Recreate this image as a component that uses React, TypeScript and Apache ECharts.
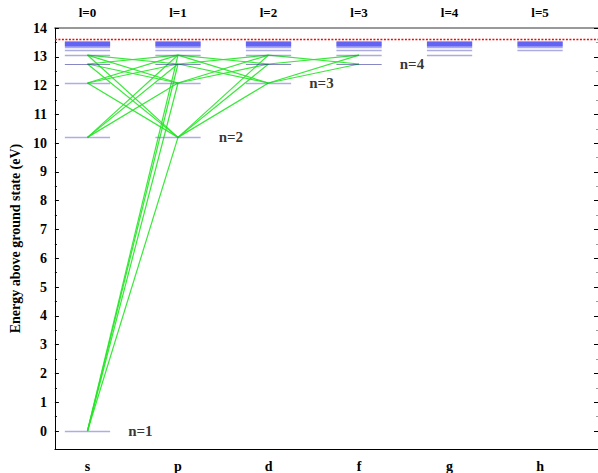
import React, { useEffect, useRef } from "react";
import * as echarts from "echarts";

// Principal quantum numbers and their energies above ground state (eV)
const LEVEL_N = [1, 2, 3, 4, 5, 6, 7, 8, 9, 10, 11, 12];
const LEVEL_E = [0, 10.2, 12.09, 12.75, 13.06, 13.22, 13.32, 13.39, 13.43, 13.46, 13.49, 13.51];
const IONIZATION = 13.6;
// Orbital columns
const L_VALUES = [0, 1, 2, 3, 4, 5];
const TOP_LABELS = ["l=0", "l=1", "l=2", "l=3", "l=4", "l=5"];
const BOTTOM_LABELS = ["s", "p", "d", "f", "g", "h"];
const Y_TICKS = [0, 1, 2, 3, 4, 5, 6, 7, 8, 9, 10, 11, 12, 13, 14];
const Y_MINOR = [0.5, 1.5, 2.5, 3.5, 4.5, 5.5, 6.5, 7.5, 8.5, 9.5, 10.5, 11.5, 12.5, 13.5];
// n labels: [n, column]
const N_LABELS = [
  [1, 0],
  [2, 1],
  [3, 2],
  [4, 3],
];
// transitions drawn among n <= 5 and l <= 3 (selection rule dl = ±1)
const TRANS_MAX_N = 5;
const TRANS_MAX_L = 3;

const X_MIN = -0.36;
const X_MAX = 5.64;
const Y_MIN = -0.625;
const Y_MAX = 14;
const HALF = 0.25;
const FONT = "Liberation Serif, DejaVu Serif, serif";

function levelStyle(n: number) {
  if (n <= 3) return { color: "#5c5cc8", width: 1.4 };
  if (n === 4) return { color: "#10108a", width: 1.2 };
  if (n <= 7) return { color: "#5858c0", width: 1.3 };
  return { color: "#0000ee", width: 1.5 };
}

export default function App() {
  const ref = useRef<HTMLDivElement>(null);
  useEffect(() => {
    if (!ref.current) return;
    const chart = echarts.init(ref.current, null, { renderer: "svg" });

    const levelData: any[] = [];
    L_VALUES.forEach((l) => {
      LEVEL_N.forEach((n, i) => {
        if (l < n) {
          levelData.push({
            coords: [
              [l - HALF, LEVEL_E[i]],
              [l + HALF, LEVEL_E[i]],
            ],
            lineStyle: levelStyle(n),
          });
        }
      });
    });

    const transData: any[] = [];
    for (let i = 0; i < LEVEL_N.length; i++) {
      for (let j = i + 1; j < LEVEL_N.length; j++) {
        const n1 = LEVEL_N[i];
        const n2 = LEVEL_N[j];
        if (n1 > TRANS_MAX_N || n2 > TRANS_MAX_N) continue;
        for (let l1 = 0; l1 < n1 && l1 <= TRANS_MAX_L; l1++) {
          for (let l2 = 0; l2 < n2 && l2 <= TRANS_MAX_L; l2++) {
            if (Math.abs(l1 - l2) !== 1) continue;
            transData.push({
              coords: [
                [l1, LEVEL_E[i]],
                [l2, LEVEL_E[j]],
              ],
            });
          }
        }
      }
    }

    const labelData = N_LABELS.map(([n, l]) => [l + 0.45, LEVEL_E[n - 1], "n=" + n]);

    const tickLabelStyle = { fontFamily: FONT, fontWeight: "bold", fontSize: 14, color: "#000" };

    chart.setOption({
      animation: false,
      backgroundColor: "#fff",
      grid: { left: 50, right: -1, top: 28, bottom: 24 },
      xAxis: [
        {
          type: "value",
          position: "bottom",
          min: X_MIN,
          max: X_MAX,
          axisLine: { show: true, onZero: false, lineStyle: { color: "#000", width: 1 } },
          axisTick: { show: false },
          splitLine: { show: false },
          axisLabel: {
            customValues: L_VALUES,
            formatter: (v: number) => BOTTOM_LABELS[Math.round(v)] ?? "",
            margin: 10,
            ...tickLabelStyle,
          },
        },
        {
          type: "value",
          position: "top",
          min: X_MIN,
          max: X_MAX,
          axisLine: { show: true, onZero: false, lineStyle: { color: "#777", width: 1.5 } },
          axisTick: { show: false },
          splitLine: { show: false },
          axisLabel: {
            customValues: L_VALUES,
            formatter: (v: number) => TOP_LABELS[Math.round(v)] ?? "",
            margin: 9,
            ...tickLabelStyle,
            fontSize: 13,
          },
        },
      ],
      yAxis: [
        {
          type: "value",
          position: "left",
          min: Y_MIN,
          max: Y_MAX,
          name: "Energy above ground state (eV)",
          nameLocation: "middle",
          nameRotate: 90,
          nameGap: 29,
          nameTextStyle: { fontFamily: FONT, fontWeight: "bold", fontSize: 14, color: "#000" },
          axisLine: { show: true, onZero: false, lineStyle: { color: "#000", width: 1 } },
          axisTick: { show: true, inside: true, length: 4, customValues: Y_TICKS, lineStyle: { color: "#000" } },
          axisLabel: { customValues: Y_TICKS, margin: 8, ...tickLabelStyle },
          splitLine: { show: false },
        },
        {
          type: "value",
          position: "left",
          min: Y_MIN,
          max: Y_MAX,
          axisLine: { show: false, onZero: false },
          axisTick: { show: true, inside: true, length: 2, customValues: Y_MINOR, lineStyle: { color: "#000" } },
          axisLabel: { show: false },
          splitLine: { show: false },
        },
        {
          type: "value",
          position: "right",
          min: Y_MIN,
          max: Y_MAX,
          axisLine: { show: true, onZero: false, lineStyle: { color: "#000" } },
          axisTick: { show: true, inside: true, length: 4, customValues: Y_TICKS, lineStyle: { color: "#000" } },
          axisLabel: { show: false },
          splitLine: { show: false },
        },
        {
          type: "value",
          position: "right",
          min: Y_MIN,
          max: Y_MAX,
          axisLine: { show: false, onZero: false },
          axisTick: { show: true, inside: true, length: 2, customValues: Y_MINOR, lineStyle: { color: "#999" } },
          axisLabel: { show: false },
          splitLine: { show: false },
        },
      ],
      series: [
        {
          type: "line",
          xAxisIndex: 0,
          yAxisIndex: 0,
          silent: true,
          showSymbol: false,
          symbol: "none",
          z: 5,
          color: "#ff0000",
          lineStyle: { color: "#ff0000", width: 1.5, type: [2, 1.5] },
          data: [
            [X_MIN, IONIZATION],
            [X_MAX, IONIZATION],
          ],
        },
        {
          type: "lines",
          coordinateSystem: "cartesian2d",
          xAxisIndex: 0,
          yAxisIndex: 0,
          silent: true,
          lineStyle: { color: "#22e622", width: 1.2, opacity: 0.9 },
          data: transData,
        },
        {
          type: "lines",
          coordinateSystem: "cartesian2d",
          xAxisIndex: 0,
          yAxisIndex: 0,
          silent: true,
          data: levelData,
        },
        {
          type: "scatter",
          xAxisIndex: 0,
          yAxisIndex: 0,
          symbolSize: 0,
          silent: true,
          data: labelData,
          label: {
            show: true,
            position: "right",
            distance: 0,
            formatter: (p: any) => p.data[2],
            fontFamily: FONT,
            fontWeight: "bold",
            fontSize: 15,
            color: "#000",
          },
        },
      ],
    });
    return () => chart.dispose();
  }, []);
  return (
    <div
      ref={ref}
      style={{ position: "fixed", left: 0, top: 0, width: 598, height: 473, background: "#fff" }}
    />
  );
}
